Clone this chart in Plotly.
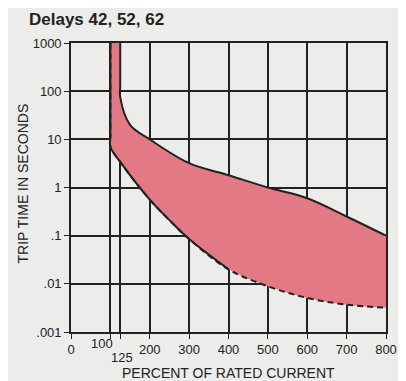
import plotly.graph_objects as go

# Time-current band (vertical part first, then the curve)
upper_x = [125, 125, 125, 150, 200, 300, 400, 500, 600, 700, 800]
upper_y = [1000, 130, 75, 20, 10, 3.2, 1.8, 1.0, 0.6, 0.25, 0.1]

lower_x = [100, 100, 100, 125, 200, 250, 300, 400, 500, 600, 700, 800]
lower_y = [1000, 12, 7, 3.4, 0.56, 0.21, 0.085, 0.02, 0.0089, 0.0051, 0.0037, 0.0032]

solid_end = 8  # lower curve is dashed beyond 400%

x_ticks = [0, 100, 125, 200, 300, 400, 500, 600, 700, 800]
x_text = ['0', '', '', '200', '300', '400', '500', '600', '700', '800']
y_ticks = [0.001, 0.01, 0.1, 1, 10, 100, 1000]
y_text = ['.001', '.01', '.1', '1', '10', '100', '1000']

pink = '#e27984'
ink = '#222222'
bg = '#ececea'
font = 'Liberation Sans'

# the page body has an 8px margin, so the figure is a bit smaller than the window
W, H = 398, 373

fig = go.Figure()

# shaded band
fig.add_trace(go.Scatter(x=lower_x, y=lower_y, mode='lines',
                         line=dict(width=0, shape='spline'), hoverinfo='skip'))
fig.add_trace(go.Scatter(x=upper_x, y=upper_y, mode='lines', fill='tonexty',
                         fillcolor=pink, line=dict(width=0, shape='spline'),
                         hoverinfo='skip'))

# outlines
fig.add_trace(go.Scatter(x=upper_x, y=upper_y, mode='lines',
                         line=dict(color=ink, width=2, shape='spline')))
fig.add_trace(go.Scatter(x=lower_x, y=lower_y, mode='lines',
                         line=dict(color=ink, width=2, shape='spline', dash='6px,4px')))
fig.add_trace(go.Scatter(x=lower_x[:solid_end], y=lower_y[:solid_end], mode='lines',
                         line=dict(color=ink, width=2, shape='spline')))

tick_font = dict(size=13, color=ink, family=font)
title_font = dict(size=14, color=ink, family=font)

# odd tick labels for 100 and 125
fig.add_annotation(x=100, y=0, xref='x', yref='paper', text='100', showarrow=False,
                   xanchor='right', yanchor='middle', xshift=5, yshift=-11, font=tick_font)
fig.add_annotation(x=125, y=0, xref='x', yref='paper', text='125', showarrow=False,
                   xanchor='center', yanchor='middle', xshift=2, yshift=-25, font=tick_font)

# axis titles
fig.add_annotation(x=0.5, y=0, xref='paper', yref='paper', text='PERCENT OF RATED CURRENT',
                   showarrow=False, xanchor='center', yanchor='middle', yshift=-41,
                   font=title_font)
fig.add_annotation(x=0, y=0.5, xref='paper', yref='paper', text='TRIP TIME IN SECONDS',
                   showarrow=False, xanchor='center', yanchor='middle', xshift=-49, yshift=4,
                   textangle=-90, font=title_font)

fig.update_layout(
    width=W, height=H,
    margin=dict(l=63, r=20, t=35, b=49),
    paper_bgcolor=bg, plot_bgcolor=bg,
    showlegend=False,
    font=dict(family=font, size=13, color=ink),
    title=dict(text='<b>Delays 42, 52, 62</b>', x=21 / W, xanchor='left', xref='container',
               y=1 - 11 / H, yanchor='middle', yref='container',
               font=dict(size=17, color=ink, family=font)),
)
fig.update_xaxes(range=[0, 800], tickvals=x_ticks, ticktext=x_text, automargin=False,
                 showgrid=True, gridcolor=ink, gridwidth=1.6,
                 showline=True, linecolor=ink, linewidth=1.6, mirror=True,
                 ticks='outside', ticklen=5, tickcolor=ink, zeroline=False)
fig.update_yaxes(type='log', range=[-3, 3], tickvals=y_ticks, ticktext=y_text,
                 automargin=False,
                 showgrid=True, gridcolor=ink, gridwidth=1.6,
                 showline=True, linecolor=ink, linewidth=1.6, mirror=True,
                 ticks='outside', ticklen=5, tickcolor=ink)

fig.write_html("out.html")
